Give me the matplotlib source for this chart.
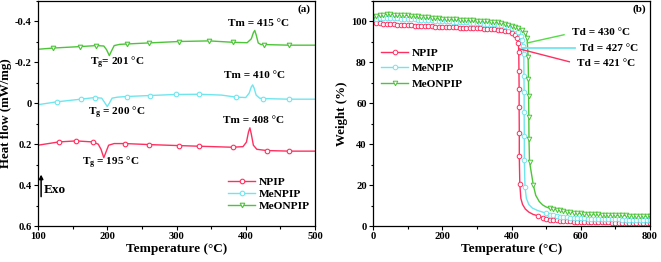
import matplotlib
matplotlib.use("Agg")
import matplotlib.pyplot as plt
import numpy as np
from matplotlib.ticker import MultipleLocator

plt.rcParams['font.family'] = ['Liberation Serif', 'DejaVu Serif']
plt.rcParams['font.weight'] = 'bold'
plt.rcParams['axes.labelweight'] = 'bold'
plt.rcParams['mathtext.fontset'] = 'custom'
plt.rcParams['mathtext.rm'] = 'Liberation Serif:bold'
plt.rcParams['mathtext.it'] = 'Liberation Serif:bold'
plt.rcParams['mathtext.bf'] = 'Liberation Serif:bold'

RED = '#ff3060'
CYAN = '#6fe6ee'
GREEN = '#4cc538'
labels = ['NPIP', 'MeNPIP', 'MeONPIP']

# ---------------- DSC data (a) ----------------
npip_dsc_T = [100, 130, 155, 179, 187, 191, 195, 198, 202, 210, 226, 261, 304, 333, 381, 396, 401, 404, 406, 408, 411, 416, 430, 463, 500]
npip_dsc_H = [0.205, 0.189, 0.184, 0.189, 0.200, 0.225, 0.266, 0.240, 0.205, 0.197, 0.197, 0.202, 0.207, 0.210, 0.215, 0.212, 0.190, 0.140, 0.120, 0.150, 0.205, 0.225, 0.231, 0.234, 0.234]
npip_dsc_mk = [130, 155, 179, 226, 261, 304, 333, 381, 430, 463]

menpip_dsc_T = [100, 127, 162, 182, 192, 196, 200, 203, 207, 215, 228, 262, 299, 333, 365, 386, 400, 405, 408, 410, 412, 415, 420, 425, 462, 500]
menpip_dsc_H = [0.007, -0.007, -0.020, -0.028, -0.025, -0.005, 0.016, 0.000, -0.025, -0.030, -0.033, -0.038, -0.043, -0.044, -0.040, -0.030, -0.028, -0.050, -0.080, -0.090, -0.075, -0.040, -0.025, -0.023, -0.020, -0.020]
menpip_dsc_mk = [127, 162, 182, 228, 262, 299, 333, 386, 425, 462]

meonpip_dsc_T = [100, 122, 160, 184, 195, 199, 203, 206, 210, 218, 229, 260, 304, 347, 382, 402, 408, 411, 413, 415, 418, 422, 427, 463, 500]
meonpip_dsc_H = [-0.264, -0.270, -0.277, -0.282, -0.280, -0.262, -0.233, -0.255, -0.282, -0.288, -0.290, -0.295, -0.302, -0.305, -0.298, -0.296, -0.315, -0.345, -0.356, -0.335, -0.295, -0.287, -0.287, -0.284, -0.284]
meonpip_dsc_mk = [122, 160, 184, 229, 260, 304, 347, 382, 427, 463]

# ---------------- TGA data (b) ----------------
npip_tga_T = list(range(0, 420, 10)) + [416, 420, 421, 421.5, 422, 422, 422.5, 422.5, 424] \
    + [427, 432, 440, 450, 462] + [476, 490] + list(range(500, 810, 10))
npip_tga_W = [99.6, 99.3, 99.1, 98.9, 98.8, 98.7, 98.6, 98.5, 98.4, 98.3,
              98.2, 98.1, 98.0, 97.9, 97.8, 97.7, 97.6, 97.6, 97.5, 97.4,
              97.4, 97.3, 97.2, 97.2, 97.1, 97.0, 97.0, 96.9, 96.8, 96.8,
              96.7, 96.6, 96.5, 96.4, 96.3, 96.2, 96.0, 95.8, 95.5, 95.1,
              94.5, 93.5,
              92.0, 89.5, 85.0, 76.0, 67.0, 58.0, 45.5, 34.0, 20.5,
              13.5, 10.5, 8.3, 6.8, 5.7,
              5.0, 4.0,
              3.4, 3.1, 2.9, 2.7, 2.6, 2.5, 2.4, 2.3, 2.2, 2.1,
              2.0, 2.0, 1.9, 1.9, 1.9, 1.8, 1.8, 1.8, 1.8, 1.7,
              1.7, 1.7, 1.7, 1.7, 1.6, 1.6, 1.6, 1.6, 1.6, 1.5,
              1.5]
npip_tga_tail = [427, 432, 440, 450, 462]

menpip_tga_T = list(range(0, 430, 10)) + [426, 430, 433, 435.5, 436, 436.5, 436.5, 437, 437, 439] \
    + [443, 450, 460, 475, 490] + list(range(500, 810, 10))
menpip_tga_W = [101.0, 101.3, 101.6, 101.8, 101.8, 101.7, 101.6, 101.5, 101.4, 101.3,
                101.2, 101.1, 101.0, 100.9, 100.8, 100.7, 100.6, 100.5, 100.4, 100.3,
                100.2, 100.1, 100.0, 99.9, 99.8, 99.7, 99.6, 99.5, 99.4, 99.3,
                99.2, 99.1, 99.0, 98.9, 98.8, 98.6, 98.4, 98.2, 97.9, 97.5,
                97.0, 96.2, 94.8,
                93.0, 91.0, 88.0, 84.0, 73.5, 65.5, 55.5, 44.0, 32.5, 19.0,
                13.5, 10.5, 8.8, 7.6, 6.8,
                6.2, 5.6, 5.2, 4.9, 4.6, 4.4, 4.2, 4.1, 4.0, 3.9,
                3.8, 3.7, 3.6, 3.5, 3.5, 3.4, 3.4, 3.3, 3.3, 3.2,
                3.2, 3.2, 3.1, 3.1, 3.1, 3.0, 3.0, 3.0, 3.0, 3.0,
                3.0]
menpip_tga_tail = [443, 450, 460, 475, 490]

meonpip_tga_T = list(range(0, 450, 10)) + [445, 448, 449, 449.5, 450, 450.5, 452, 463] \
    + [470, 480, 490, 500] + list(range(510, 810, 10))
meonpip_tga_W = [102.2, 102.6, 103.1, 103.4, 103.5, 103.5, 103.4, 103.3, 103.2, 103.1,
                 103.0, 102.8, 102.7, 102.5, 102.4, 102.2, 102.0, 101.9, 101.7, 101.6,
                 101.4, 101.3, 101.2, 101.1, 101.0, 100.9, 100.8, 100.7, 100.6, 100.5,
                 100.4, 100.3, 100.2, 100.0, 99.9, 99.8, 99.6, 99.3, 99.0, 98.5,
                 98.0, 97.4, 96.8, 96.0, 94.5,
                 92.0, 82.5, 72.0, 63.5, 53.5, 42.5, 31.5, 20.0,
                 15.0, 12.0, 10.3, 9.3,
                 8.7, 8.3, 8.0, 7.6, 7.3, 7.0, 6.8, 6.6, 6.4, 6.2,
                 6.1, 6.0, 5.9, 5.8, 5.7, 5.6, 5.5, 5.5, 5.4, 5.3,
                 5.3, 5.2, 5.2, 5.1, 5.1, 5.0, 5.0, 4.9, 4.9, 4.8]
meonpip_tga_tail = [470, 480, 490, 500]

fig = plt.figure(figsize=(6.61, 2.62), dpi=100)
axa = fig.add_axes([38/661, 36/262, 277/661, 225/262])
axb = fig.add_axes([373/661, 36/262, 277/661, 225/262])

def style(ax):
    ax.tick_params(which='both', direction='out', labelsize=7.6, width=0.8, pad=1.5)
    ax.tick_params(which='major', length=3)
    ax.tick_params(which='minor', length=1.8)
    for s in ax.spines.values():
        s.set_linewidth(0.9)

# ---- panel (a)
dsc = [(npip_dsc_T, npip_dsc_H, npip_dsc_mk, RED, 'o'),
       (menpip_dsc_T, menpip_dsc_H, menpip_dsc_mk, CYAN, 'o'),
       (meonpip_dsc_T, meonpip_dsc_H, meonpip_dsc_mk, GREEN, 'v')]
for (T, H, mk, c, m), lab in zip(dsc, labels):
    idx = [T.index(v) for v in mk]
    axa.plot(T, H, color=c, lw=1.0, marker=m, ms=3.3, mfc='white', mec=c, mew=0.8,
             markevery=idx, label=lab)
axa.set_xlim(100, 500)
axa.set_ylim(0.6, -0.5)
axa.xaxis.set_major_locator(MultipleLocator(100))
axa.xaxis.set_minor_locator(MultipleLocator(50))
axa.yaxis.set_minor_locator(MultipleLocator(0.1))
axa.set_yticks([-0.4, -0.2, 0, 0.2, 0.4, 0.6])
axa.set_yticklabels(['-0.4', '-0.2', '0', '0.2', '0.4', '0.6'])
style(axa)
axa.set_xlabel('Temperature (°C)', fontsize=9.5, labelpad=1)
axa.set_ylabel('Heat flow (mW/mg)', fontsize=9.3)
axa.yaxis.set_label_coords(-0.094, 0.5)
fs = 8.1
axa.text(418, -0.389, 'Tm = 415 °C', ha='center', va='center', fontsize=fs)
axa.text(413, -0.134, 'Tm = 410 °C', ha='center', va='center', fontsize=fs)
axa.text(411, 0.082, 'Tm = 408 °C', ha='center', va='center', fontsize=fs)
axa.text(214, -0.198, r'T$_\mathregular{g}$= 201 °C', ha='center', va='center', fontsize=fs)
axa.text(214, 0.046, r'T$_\mathregular{g}$ = 200 °C', ha='center', va='center', fontsize=fs)
axa.text(205, 0.293, r'T$_\mathregular{g}$ = 195 °C', ha='center', va='center', fontsize=fs)
axa.annotate('', xy=(104.5, 0.335), xytext=(104.5, 0.47),
             arrowprops=dict(arrowstyle='-|>', color='black', lw=1.1, mutation_scale=6))
axa.text(109, 0.425, 'Exo', ha='left', va='center', fontsize=9.5)
axa.text(0.985, 0.985, '(a)', transform=axa.transAxes, ha='right', va='top', fontsize=8)
axa.legend(loc='lower right', bbox_to_anchor=(1.01, 0.03), frameon=False, fontsize=8.2,
           handlelength=2.4, handletextpad=0.3, labelspacing=0.2, borderpad=0.2)

# ---- panel (b)
tga = [(npip_tga_T, npip_tga_W, npip_tga_tail, RED, 'o'),
       (menpip_tga_T, menpip_tga_W, menpip_tga_tail, CYAN, 'o'),
       (meonpip_tga_T, meonpip_tga_W, meonpip_tga_tail, GREEN, 'v')]
for (T, W, tail, c, m), lab in zip(tga, labels):
    idx = [i for i, v in enumerate(T) if v not in tail]
    axb.plot(T, W, color=c, lw=1.0, marker=m, ms=3.3, mfc='white', mec=c, mew=0.7,
             markevery=idx, label=lab)
axb.set_xlim(0, 800)
axb.set_ylim(0, 110)
axb.xaxis.set_major_locator(MultipleLocator(200))
axb.xaxis.set_minor_locator(MultipleLocator(100))
axb.yaxis.set_major_locator(MultipleLocator(20))
axb.yaxis.set_minor_locator(MultipleLocator(10))
style(axb)
axb.set_xlabel('Temperature (°C)', fontsize=9.5, labelpad=1)
axb.set_ylabel('Weight (%)', fontsize=9.3)
axb.yaxis.set_label_coords(-0.09, 0.5)
axb.plot([445.7, 551.7], [89.5, 93.5], color='#55dd44', lw=1.0)
axb.plot([434, 583], [87.1, 87.1], color=CYAN, lw=1.3)
axb.plot([422.6, 567], [86.6, 80.3], color=RED, lw=1.0)
axb.text(575, 94.5, 'Td = 430 °C', ha='left', va='center', fontsize=fs)
axb.text(598, 87.0, 'Td = 427 °C', ha='left', va='center', fontsize=fs)
axb.text(588, 79.5, 'Td = 421 °C', ha='left', va='center', fontsize=fs)
axb.text(0.985, 0.985, '(b)', transform=axb.transAxes, ha='right', va='top', fontsize=8)
axb.legend(loc='upper left', bbox_to_anchor=(0.0, 0.825), frameon=False, fontsize=8.2,
           handlelength=2.4, handletextpad=0.3, labelspacing=0.45, borderpad=0.2)

fig.savefig('out.png', dpi=100)
